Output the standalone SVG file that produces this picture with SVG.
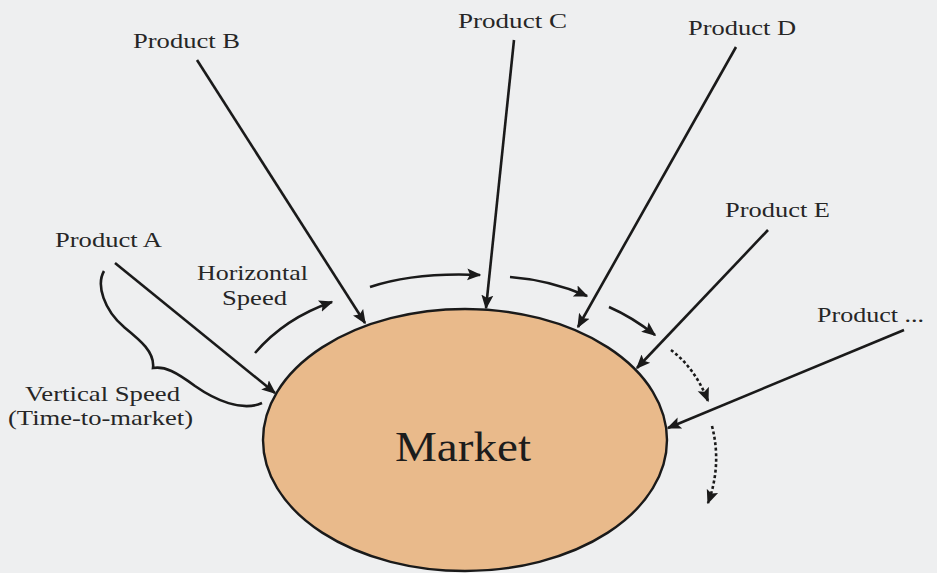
<svg xmlns="http://www.w3.org/2000/svg" width="937" height="573" viewBox="0 0 937 573">
<style>
text{font-family:"Liberation Serif",Tinos,"Times New Roman",Times,serif}
.lbl{font-size:22px;fill:#262626}
.ln{fill:none;stroke:#1a1a1a;stroke-width:2.6}
.dot{fill:none;stroke:#1a1a1a;stroke-width:2.6;stroke-dasharray:3 2.5}
</style>
<defs>
<marker id="ah" viewBox="0 0 10 10" refX="9" refY="5" markerWidth="5.5" markerHeight="5.5" markerUnits="strokeWidth" orient="auto">
<path d="M0,0.8 L10,5 L0,9.2 L2,5 Z" fill="#1a1a1a"/>
</marker>
</defs>
<rect width="937" height="573" fill="#eeeff0"/>
<g id="market">
<ellipse cx="465" cy="440" rx="202" ry="131" fill="#e9ba8b" stroke="#1a1a1a" stroke-width="2.4"/>
<text x="463" y="461" text-anchor="middle" font-size="42" fill="#1c1c1c" textLength="136" lengthAdjust="spacingAndGlyphs">Market</text>
</g>
<g id="productA"><text class="lbl" x="55" y="247" textLength="107" lengthAdjust="spacingAndGlyphs">Product A</text></g>
<g id="productB"><text class="lbl" x="133" y="48" textLength="107" lengthAdjust="spacingAndGlyphs">Product B</text></g>
<g id="productC"><text class="lbl" x="458" y="28" textLength="109" lengthAdjust="spacingAndGlyphs">Product C</text></g>
<g id="productD"><text class="lbl" x="688" y="35" textLength="108" lengthAdjust="spacingAndGlyphs">Product D</text></g>
<g id="productE"><text class="lbl" x="725" y="217" textLength="105" lengthAdjust="spacingAndGlyphs">Product E</text></g>
<g id="productMore"><text class="lbl" x="817" y="322" textLength="107" lengthAdjust="spacingAndGlyphs">Product ...</text></g>
<g id="horizontalSpeed">
<text class="lbl" x="197" y="280" textLength="111" lengthAdjust="spacingAndGlyphs">Horizontal</text>
<text class="lbl" x="222" y="305" textLength="65" lengthAdjust="spacingAndGlyphs">Speed</text>
</g>
<g id="verticalSpeed">
<text class="lbl" x="25" y="401" textLength="155" lengthAdjust="spacingAndGlyphs">Vertical Speed</text>
<text class="lbl" x="8" y="425" textLength="185" lengthAdjust="spacingAndGlyphs">(Time-to-market)</text>
</g>
<g id="connectors">
<line class="ln" x1="115" y1="263" x2="275" y2="393" marker-end="url(#ah)"/>
<line class="ln" x1="197" y1="60" x2="365" y2="323" marker-end="url(#ah)"/>
<line class="ln" x1="514" y1="40" x2="486" y2="308" marker-end="url(#ah)"/>
<line class="ln" x1="736" y1="47" x2="578" y2="327" marker-end="url(#ah)"/>
<line class="ln" x1="768" y1="230" x2="637" y2="368" marker-end="url(#ah)"/>
<line class="ln" x1="904" y1="330" x2="668" y2="428" marker-end="url(#ah)"/>
<path class="ln" d="M255,353 Q285,318 332,302" marker-end="url(#ah)"/>
<path class="ln" d="M370,287 Q415,272 480,275" marker-end="url(#ah)"/>
<path class="ln" d="M510,277 Q550,280 587,296" marker-end="url(#ah)"/>
<path class="ln" d="M609,307 Q632,317 655,335" marker-end="url(#ah)"/>
<path class="dot" d="M671,350 Q695,368 708,401" marker-end="url(#ah)"/>
<path class="dot" d="M712,426 Q722,465 708,503" marker-end="url(#ah)"/>
<path class="ln" d="M104,271 C96,285 104,310 124,327 C140,340 155,352 153,368 C165,366 176,372 195,386 C215,400 242,412 262,403"/>
</g>
</svg>
